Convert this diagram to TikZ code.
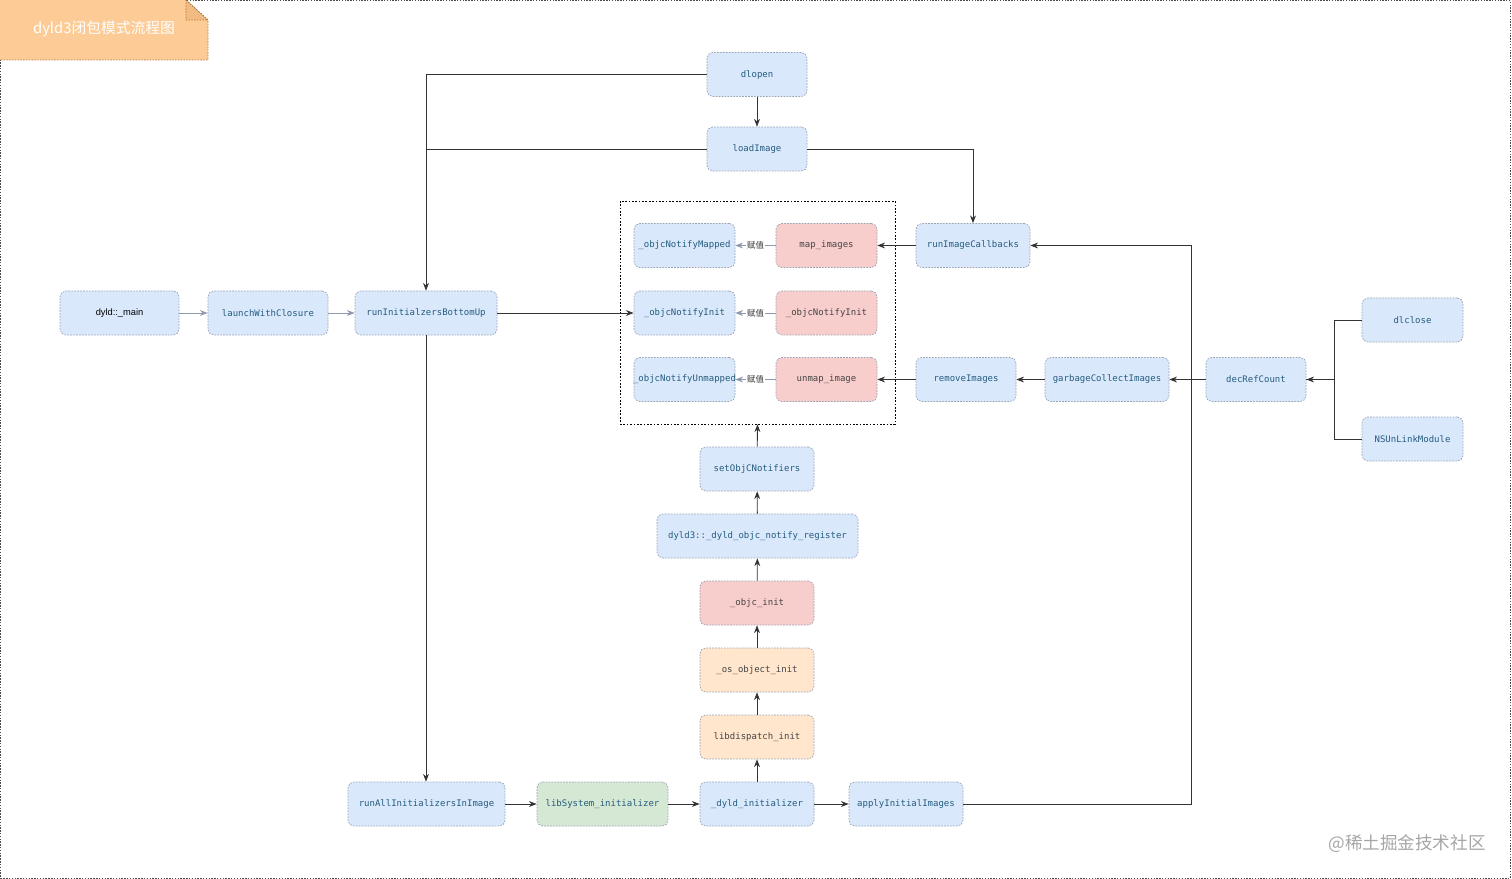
\documentclass[tikz,border=0pt]{standalone}
\usepackage{fontspec}
\setmainfont{Liberation Sans}
\setmonofont{DejaVu Sans Mono}
\newfontfamily\cjkfont{Noto Sans CJK SC}
\usetikzlibrary{arrows.meta, positioning, calc}

\newlength\px
\setlength\px{0.025cm}

\definecolor{bluefill}{HTML}{DAE8FC}
\definecolor{redfill}{HTML}{F8CECC}
\definecolor{orangefill}{HTML}{FFE6CC}
\definecolor{greenfill}{HTML}{D5E8D4}
\definecolor{boxline}{HTML}{9AA3B4}
\definecolor{bluetext}{HTML}{245C7E}
\definecolor{greytext}{HTML}{444444}
\definecolor{linecol}{HTML}{333333}
\definecolor{softlink}{HTML}{8E99B0}
\definecolor{notefill}{HTML}{FDCB95}
\definecolor{notefold}{HTML}{F1BB82}
\definecolor{noteline}{HTML}{A87942}

\begin{document}
\begin{tikzpicture}[
  x=0.025cm, y=-0.025cm,
  func/.style = {rectangle, rounded corners=4pt, draw=boxline, line width=0.5pt,
                 dash pattern=on 1.2pt off 0.9pt, fill=bluefill, text=bluetext,
                 minimum height=44\px, inner sep=1pt,
                 font=\ttfamily\fontsize{6.4}{7.5}\selectfont},
  objc_func/.style = {func, fill=redfill, text=greytext},
  gcd_func/.style = {func, fill=orangefill, text=greytext},
  lib_func/.style = {func, fill=greenfill},
  boxw/.style = {minimum width=#1\px},
  group/.style = {draw=black, line width=0.5pt, dash pattern=on 1.2pt off 1.2pt},
  arrow/.style = {draw=linecol, line width=0.6pt, -{Stealth[length=5.5pt,width=4.2pt]}},
  link/.style = {draw=linecol, line width=0.6pt},
  soft_arrow/.style = {arrow, draw=softlink},
  assign/.style = {fill=white, inner sep=0.6pt, text=linecol,
                   font=\cjkfont\fontsize{6}{7}\selectfont}
]
\useasboundingbox (0,0) rectangle (1512,879);

% page frame
\draw[draw=black!70, line width=0.5pt, dash pattern=on 1pt off 1pt]
  (0.5,0.5) rectangle (1510.5,878);

%--------------------------------------------------
% Title note
%--------------------------------------------------
\fill[notefill] (0,0) -- (186,0) -- (208,20) -- (208,60) -- (0,60) -- cycle;
\filldraw[fill=notefold, draw=noteline, line width=0.5pt, dash pattern=on 1pt off 1pt]
  (186,0) -- (186,20) -- (208,20) -- cycle;
\draw[draw=noteline, line width=0.5pt, dash pattern=on 1pt off 1pt]
  (186,0) -- (208,20) -- (208,60) -- (0,60);
\node[text=white, font=\cjkfont\fontsize{10.5}{12}\selectfont] (title) at (104,29)
  {dyld3闭包模式流程图};

%--------------------------------------------------
% Launch path
%--------------------------------------------------
\node[func, boxw=119, text=black, font=\fontsize{6.6}{8}\selectfont] (main) at (119.5,313) {dyld::\_main};
\node[func, boxw=120] (launch) at (268,313) {launchWithClosure};
\node[func, boxw=142] (bottomup) at (426,313) {runInitialzersBottomUp};

\node[func, boxw=100] (dlopen) at (757,74.5) {dlopen};
\node[func, boxw=100] (loadimage) at (757,149) {loadImage};

%--------------------------------------------------
% objc notifiers (dashed group)
%--------------------------------------------------
\node[group, minimum width=275\px, minimum height=223\px] (objcbox) at (757.5,312.5) {};

\node[func, boxw=101] (notifymapped) at (684.5,245.5) {\_objcNotifyMapped};
\node[func, boxw=101] (notifyinit) at (684.5,313) {\_objcNotifyInit};
% text runs over the box edge, as in the drawing
\node[func, boxw=101] (notifyunmapped) at (684.5,379.5) {\makebox[0pt]{\_objcNotifyUnmapped}};

\node[objc_func, boxw=101] (mapimages) at (826.5,245.5) {map\_images};
\node[objc_func, boxw=101] (objcinit) at (826.5,313) {\_objcNotifyInit};
\node[objc_func, boxw=101] (unmapimage) at (826.5,379.5) {unmap\_image};

%--------------------------------------------------
% Image callbacks / unloading
%--------------------------------------------------
\node[func, boxw=114] (callbacks) at (973,245.5) {runImageCallbacks};
\node[func, boxw=100] (removeimages) at (966,379.5) {removeImages};
\node[func, boxw=124] (gcimages) at (1107,379.5) {garbageCollectImages};
\node[func, boxw=100] (decref) at (1256,379.5) {decRefCount};
\node[func, boxw=101] (dlclose) at (1412.5,320) {dlclose};
\node[func, boxw=101] (nsunlink) at (1412.5,439) {NSUnLinkModule};

%--------------------------------------------------
% libSystem initialization chain
%--------------------------------------------------
\node[func, boxw=114] (setnotifiers) at (757,469) {setObjCNotifiers};
\node[func, boxw=201] (notifyreg) at (757.5,536) {dyld3::\_dyld\_objc\_notify\_register};
\node[objc_func, boxw=114] (objc_init) at (757,603) {\_objc\_init};
\node[gcd_func, boxw=114] (osobject) at (757,670) {\_os\_object\_init};
\node[gcd_func, boxw=114] (libdispatch) at (757,737) {libdispatch\_init};

\node[func, boxw=157] (runall) at (426.5,804) {runAllInitializersInImage};
\node[lib_func, boxw=131] (libsystem) at (602.5,804) {libSystem\_initializer};
\node[func, boxw=114] (dyldinit) at (757,804) {\_dyld\_initializer};
\node[func, boxw=114] (applyinit) at (906,804) {applyInitialImages};

% watermark
\node[text=black!35, font=\cjkfont\fontsize{12.5}{14}\selectfont] (watermark) at (1407,844)
  {@稀土掘金技术社区};

%--------------------------------------------------
% Connections
%--------------------------------------------------

% launch
\draw[soft_arrow] (main) -- (launch);
\draw[soft_arrow] (launch) -- (bottomup);

% dlopen / loadImage
\draw[arrow] (dlopen) -- (loadimage);
\draw[arrow] (dlopen.west) -| (bottomup.north);
\draw[link] (loadimage.west) -- (loadimage.west -| bottomup.north);
\draw[arrow] (loadimage.east) -| (callbacks.north);

% bottom up
\draw[arrow] (bottomup.east) -- (notifyinit.west);
\draw[arrow] (bottomup.south) -- (bottomup.south |- runall.north);

% assignments
\draw[soft_arrow] (mapimages) -- node[assign] {赋值} (notifymapped);
\draw[soft_arrow] (objcinit) -- node[assign] {赋值} (notifyinit);
\draw[soft_arrow] (unmapimage) -- node[assign] {赋值} (notifyunmapped);

% callbacks and unloading
\draw[arrow] (callbacks) -- (mapimages);
\draw[arrow] (removeimages) -- (unmapimage);
\draw[arrow] (gcimages) -- (removeimages);
\draw[arrow] (decref) -- (gcimages);
\draw[arrow] (dlclose.west) -- ++(-27,0) |- (decref.east);
\draw[link] (nsunlink.west) -- ++(-27,0) |- (decref.east);

% initializer chain
\draw[arrow] (runall) -- (libsystem);
\draw[arrow] (libsystem) -- (dyldinit);
\draw[arrow] (dyldinit) -- (applyinit);
\draw[arrow] (dyldinit) -- (libdispatch);
\draw[arrow] (libdispatch) -- (osobject);
\draw[arrow] (osobject) -- (objc_init);
\draw[arrow] (objc_init) -- (notifyreg);
\draw[arrow] (notifyreg) -- (setnotifiers);
\draw[arrow] (setnotifiers) -- (objcbox.south);

% applyInitialImages feedback
\draw[arrow] (applyinit.east) -- ++(228,0) |- (callbacks.east);

\end{tikzpicture}
\end{document}
